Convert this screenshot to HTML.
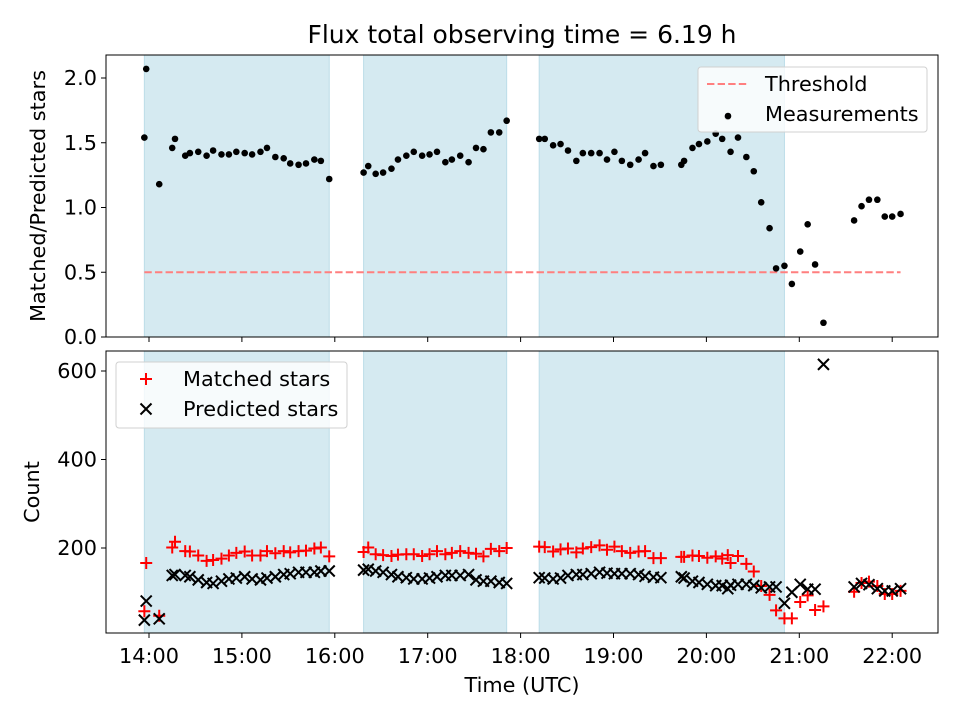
<!DOCTYPE html>
<html><head><meta charset="utf-8"><style>
body{margin:0;background:#fff;}
svg text{font-family:"DejaVu Sans","Liberation Sans",sans-serif;fill:#000;}
</style></head><body>
<svg id="chart" width="960" height="720" viewBox="0 0 960 720" xmlns="http://www.w3.org/2000/svg"></svg>
<script>
const times=[13.95,13.97,14.11,14.25,14.28,14.39,14.44,14.53,14.62,14.69,14.78,14.86,14.94,15.03,15.11,15.20,15.27,15.36,15.45,15.52,15.61,15.69,15.78,15.85,15.94,
16.31,16.36,16.44,16.52,16.61,16.68,16.77,16.85,16.94,17.02,17.10,17.19,17.26,17.35,17.44,17.52,17.60,17.68,17.77,17.85,
18.20,18.26,18.35,18.43,18.51,18.60,18.67,18.76,18.85,18.93,19.01,19.09,19.18,19.27,19.34,19.43,19.51,
19.73,19.76,19.85,19.92,20.01,20.10,20.17,20.23,20.26,20.34,20.43,20.51,20.59,20.68,20.75,20.84,20.92,21.01,21.09,21.17,21.26,
21.59,21.67,21.75,21.84,21.92,22.00,22.09];
const ratio=[1.54,2.07,1.18,1.46,1.53,1.40,1.42,1.43,1.40,1.44,1.41,1.41,1.43,1.42,1.41,1.43,1.46,1.39,1.38,1.34,1.33,1.34,1.37,1.36,1.22,
1.27,1.32,1.26,1.27,1.30,1.37,1.40,1.43,1.40,1.41,1.43,1.35,1.37,1.40,1.35,1.46,1.45,1.58,1.58,1.67,
1.53,1.53,1.48,1.49,1.44,1.36,1.42,1.42,1.42,1.37,1.43,1.36,1.33,1.37,1.42,1.32,1.33,
1.33,1.36,1.46,1.49,1.51,1.57,1.53,1.70,1.43,1.54,1.39,1.28,1.04,0.84,0.53,0.55,0.41,0.66,0.87,0.56,0.11,
0.90,1.01,1.06,1.06,0.93,0.93,0.95];
const predicted=[37,80,40,138,140,138,135,128,122,120,125,130,132,135,130,128,132,135,140,142,145,145,145,148,148,
150,152,148,145,140,135,133,130,130,132,135,138,138,138,140,128,125,125,122,120,
133,132,130,132,138,140,140,142,145,143,142,142,142,140,136,134,133,
135,132,125,122,118,115,115,108,116,118,118,115,110,112,112,75,100,118,107,107,615,
112,120,117,108,103,103,108];
const matched=[57,166,47,201,214,193,192,183,171,173,176,183,189,192,183,183,193,188,193,190,193,194,199,201,181,
191,201,186,184,182,185,186,186,182,186,193,186,189,193,189,187,181,198,193,200,
203,202,192,197,199,190,199,202,206,196,203,193,189,192,193,177,177,
180,180,183,182,178,181,176,184,166,182,164,147,114,94,59,41,41,78,93,60,68,
101,121,124,114,96,96,103];
const bandStarts=[13.95,16.31,18.20];
const bandEnds=[15.94,17.85,20.84];
const xTickLabels=["14:00","15:00","16:00","17:00","18:00","19:00","20:00","21:00","22:00"];
const xTickHours=[14,15,16,17,18,19,20,21,22];
const topYTicks=[0.0,0.5,1.0,1.5,2.0];
const botYTicks=[200,400,600];
const threshold=0.5;

const svg=document.getElementById('chart');
const NS='http://www.w3.org/2000/svg';
function mk(tag,attrs,parent){const e=document.createElementNS(NS,tag);for(const k in attrs)e.setAttribute(k,attrs[k]);(parent||svg).appendChild(e);return e;}
const L=106,R=938,T1=55,B1=337,T2=351,B2=633;
const xs=t=>149+(t-14)*92.9;
const y1=v=>337-v*129.5;
const y2=v=>636.5-v*0.4425;

mk('rect',{x:0,y:0,width:960,height:720,fill:'#fff'});
[[T1,B1],[T2,B2]].forEach(([tp,bt])=>{
  bandStarts.forEach((s,i)=>{
    const r=mk('rect',{x:xs(s),y:tp,width:xs(bandEnds[i])-xs(s),height:bt-tp,fill:'#d5eaf1',stroke:'#bcdde8','stroke-width':1});
    
    
  });
});
const th=mk('line',{x1:xs(13.95),x2:xs(22.09),y1:y1(threshold),y2:y1(threshold),stroke:'#ff7f7f','stroke-width':2,'stroke-dasharray':'7.4,3.2'});


times.forEach((t,i)=>{
  const c=mk('circle',{cx:xs(t),cy:y1(ratio[i]),r:3.3,fill:'#000'});
  
  
});
times.forEach((t,i)=>{
  const x=xs(t),y=y2(matched[i]),s=6;
  const p=mk('path',{d:`M${x-s},${y}H${x+s}M${x},${y-s}V${y+s}`,stroke:'#ff0000','stroke-width':2});
  
  
});
times.forEach((t,i)=>{
  const x=xs(t),y=y2(predicted[i]),s=5.5;
  const p=mk('path',{d:`M${x-s},${y-s}L${x+s},${y+s}M${x-s},${y+s}L${x+s},${y-s}`,stroke:'#000','stroke-width':2});
  
  
});
[[T1,B1],[T2,B2]].forEach(([tp,bt])=>{
  const f=mk('rect',{x:L,y:tp,width:R-L,height:bt-tp,fill:'none',stroke:'#000','stroke-width':1});
  
  
});
xTickHours.forEach((h,i)=>{
  const x=xs(h);
  mk('line',{x1:x,x2:x,y1:B1,y2:B1+5,stroke:'#000'});
  mk('line',{x1:x,x2:x,y1:B2,y2:B2+5,stroke:'#000'});
  const tx=mk('text',{x:x,y:B2+30,'text-anchor':'middle','font-size':20.8});
  tx.textContent=xTickLabels[i];
  
  
});
topYTicks.forEach(v=>{
  const y=y1(v);
  mk('line',{x1:L-5,x2:L,y1:y,y2:y,stroke:'#000'});
  const tx=mk('text',{x:L-9,y:y+7,'text-anchor':'end','font-size':20.8});
  tx.textContent=v.toFixed(1);
  
  
});
botYTicks.forEach(v=>{
  const y=y2(v);
  mk('line',{x1:L-5,x2:L,y1:y,y2:y,stroke:'#000'});
  const tx=mk('text',{x:L-9,y:y+7,'text-anchor':'end','font-size':20.8});
  tx.textContent=String(v);
  
  
});
</script>
<svg width="960" height="720" style="position:absolute;left:0;top:0">
<text x="522" y="43" text-anchor="middle" font-size="25">Flux total observing time = 6.19 h</text>
<text transform="translate(45,196) rotate(-90)" text-anchor="middle" font-size="20.8">Matched/Predicted stars</text>
<text transform="translate(39,492) rotate(-90)" text-anchor="middle" font-size="20.8">Count</text>
<text x="522" y="692" text-anchor="middle" font-size="20.8">Time (UTC)</text>
<g>
<rect x="698" y="67" width="229" height="65" rx="3" fill="#fff" fill-opacity="0.8" stroke="#d0d0d0"/>
<line x1="707" x2="747" y1="84" y2="84" stroke="#ff7f7f" stroke-width="2" stroke-dasharray="7.4,3.2"/>
<text x="765" y="91" font-size="20.8">Threshold</text>
<circle cx="728" cy="116" r="3.3" fill="#000"/>
<text x="765" y="121" font-size="20.8">Measurements</text>
</g>
<g>
<rect x="116" y="362" width="231" height="66" rx="3" fill="#fff" fill-opacity="0.8" stroke="#d0d0d0"/>
<path d="M140,379H152M146,373V385" stroke="#f00" stroke-width="2"/>
<text x="183" y="386" font-size="20.8">Matched stars</text>
<path d="M140.5,403.5L151.5,414.5M140.5,414.5L151.5,403.5" stroke="#000" stroke-width="2"/>
<text x="183" y="416" font-size="20.8">Predicted stars</text>
</g>
</svg>
</body></html>
